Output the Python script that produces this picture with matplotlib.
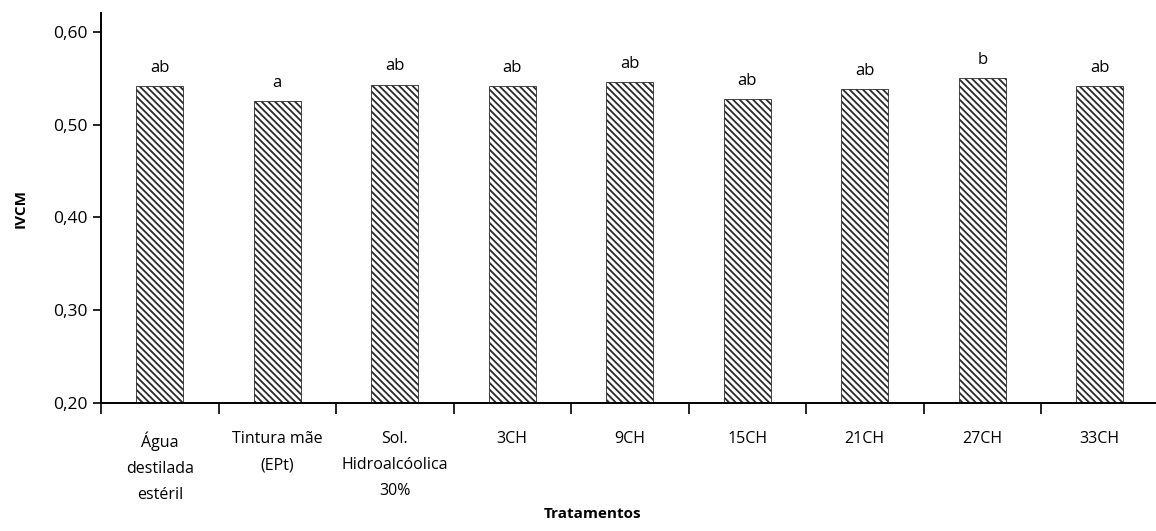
import matplotlib.pyplot as plt
import numpy as np

plt.rcParams['font.family'] = ['Open Sans', 'DejaVu Sans']
plt.rcParams['hatch.linewidth'] = 1.3

# data
tratamentos = ['Água\ndestilada\nestéril', 'Tintura mãe\n(EPt)', 'Sol.\nHidroalcóolica\n30%',
               '3CH', '9CH', '15CH', '21CH', '27CH', '33CH']
ivcm = [0.541, 0.525, 0.543, 0.541, 0.546, 0.527, 0.538, 0.550, 0.541]
letras = ['ab', 'a', 'ab', 'ab', 'ab', 'ab', 'ab', 'b', 'ab']

fig = plt.figure(figsize=(11.56, 5.31), dpi=100)
ax = fig.add_axes([0.0874, 0.2405, 0.9148, 0.735])

x = np.arange(len(tratamentos))
bars = ax.bar(x, ivcm, width=0.40, bottom=0, color='white', edgecolor='#2a2a2a',
              linewidth=0.6, hatch='\\\\\\\\\\')

for xi, v, l in zip(x, ivcm, letras):
    ax.text(xi, v + 0.011, l, ha='center', va='bottom', fontsize=12)

ax.set_xlim(-0.5, len(tratamentos) - 0.5)
ax.set_ylim(0.20, 0.62)
ax.set_yticks([0.2, 0.3, 0.4, 0.5, 0.6])
ax.set_yticklabels([f'{t:.2f}'.replace('.', ',') for t in [0.2, 0.3, 0.4, 0.5, 0.6]], fontsize=12.5)

ax.set_xticks(x)
ax.set_xticklabels(tratamentos, fontsize=11.5, linespacing=1.85, va='top')
ax.tick_params(axis='x', which='major', length=0, pad=20)
ax.set_xticks(np.arange(len(tratamentos)) - 0.5, minor=True)
ax.tick_params(axis='x', which='minor', length=8, width=1.2, direction='out')
ax.tick_params(axis='y', length=6, width=1.2, direction='out', pad=4)

for s in ['top', 'right']:
    ax.spines[s].set_visible(False)
ax.spines['left'].set_linewidth(1.4)
ax.spines['bottom'].set_linewidth(1.4)

ax.set_ylabel('IVCM', fontsize=11, fontweight='bold', labelpad=18)
fig.text(0.513, 0.018, 'Tratamentos', ha='center', va='bottom', fontsize=11, fontweight='bold')

fig.savefig('out.png', dpi=100)
